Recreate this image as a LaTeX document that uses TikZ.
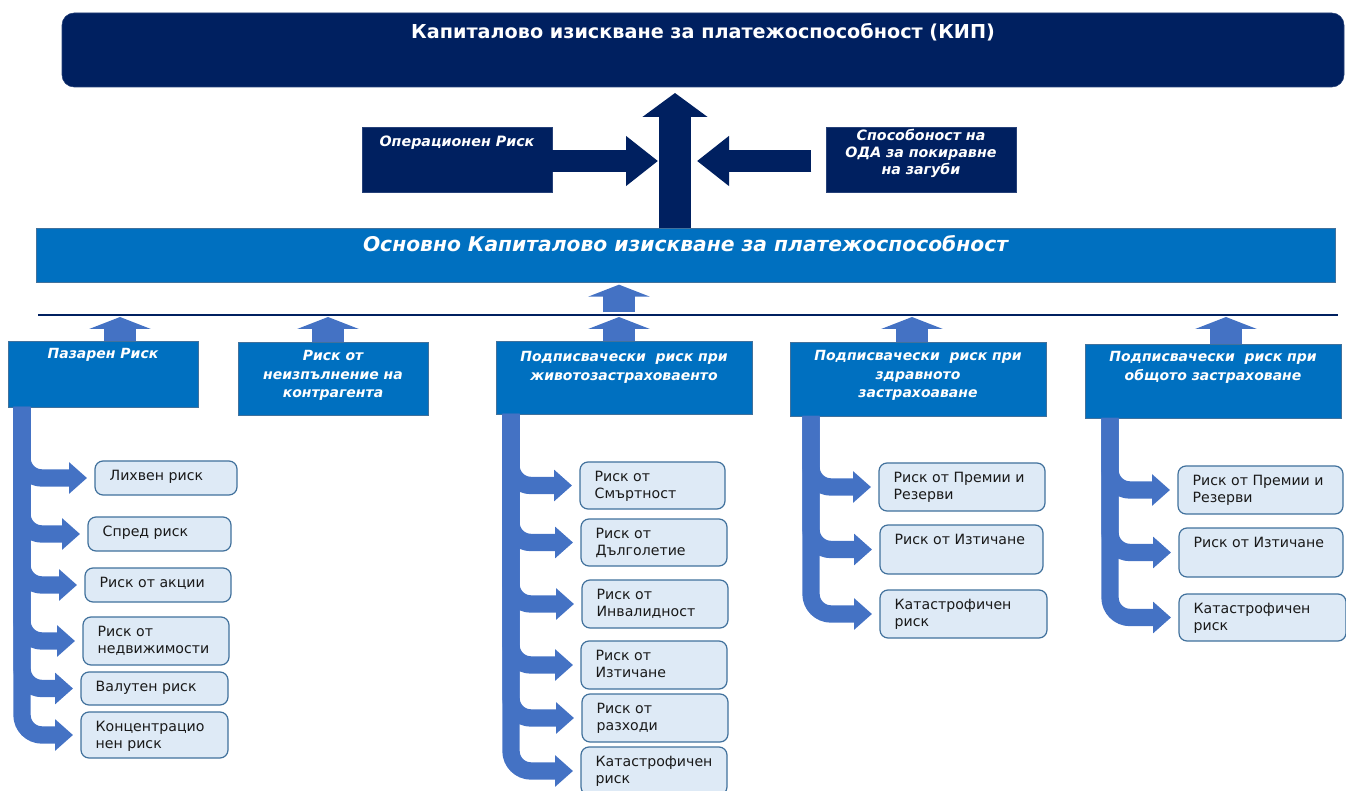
\documentclass[tikz,border=0pt]{standalone}
\usepackage{fontspec}
\setmainfont{DejaVu Sans}
\usetikzlibrary{arrows.meta,positioning,fit}
\definecolor{navy}{HTML}{002060}
\definecolor{midblue}{HTML}{0070C0}
\definecolor{arrowblue}{HTML}{4472C4}
\definecolor{subfill}{HTML}{DEEAF6}
\definecolor{subedge}{HTML}{41719C}
\tikzset{
  every node/.style={inner sep=0pt,outer sep=0pt},
  navybox/.style={fill=navy,draw=navy!85,inner sep=0pt},
  catbox/.style={fill=midblue,draw=subedge,line width=0.6pt,inner sep=0pt},
  subbox/.style={fill=subfill,draw=subedge,line width=0.9pt,rounded corners=6pt,inner sep=0pt},
  titletext/.style={text=white,font=\fontsize{14.4}{17}\selectfont\bfseries},
  bartext/.style={text=white,font=\fontsize{15.2}{18}\selectfont\bfseries\itshape},
  cattext/.style={text=white,align=center,font=\fontsize{10.5}{13.75}\selectfont\bfseries\itshape},
  boxtext/.style={text=white,align=center,font=\fontsize{10.7}{12.75}\selectfont\bfseries\itshape},
  subtext/.style={text=black!90,align=left,font=\fontsize{10.6}{12.5}\selectfont},
  bigup/.style={draw=navy,line width=24pt,-{Triangle[length=18pt,width=48pt]}},
  sidearrow/.style={draw=navy,line width=16.5pt,-{Triangle[length=24pt,width=36pt]}},
  blockup/.style={draw=arrowblue,line width=24pt,-{Triangle[length=9pt,width=46pt]}},
  subarrow/.style={draw=arrowblue,line width=13pt,rounded corners=15pt,-{Triangle[length=13.5pt,width=23pt]},shorten >=6pt},
  busline/.style={draw=navy,line width=2pt},
}
\begin{document}
\begin{tikzpicture}[x=0.75pt,y=-0.75pt]
\useasboundingbox (0,0) rectangle (1346,791);
% top level
\node[navybox,rounded corners=9pt,fit={(62,13) (1344,87)}] (kip) {};
\node[titletext,below=7.5pt of kip.north] (kiptitle) {Капиталово изискване за платежоспособност (КИП)};
\node[navybox,fit={(362,127) (552,192)}] (ops) {};
\node[boxtext,below=6.4pt of ops.north] (opstext) {Операционен Риск};
\node[navybox,fit={(826,127) (1016,192)},boxtext] (lac) {Способоност на\\ОДА за покиравне\\на загуби};
\node[catbox,fit={(36,228) (1335,282)}] (bscr) {};
\node[bartext,below=5.5pt of bscr.north] (bscrtext) {Основно Капиталово изискване за платежоспособност};
\coordinate (apex) at (675,93);
\draw[bigup] (bscr.north -| apex) -- (apex);
\coordinate (opstip) at (658,161);
\draw[sidearrow] (ops.east |- opstip) -- (opstip);
\coordinate (lactip) at (697,161);
\draw[sidearrow,shorten <=11pt] (lac.west |- lactip) -- (lactip);
% aggregation line
\coordinate (busl) at (38,315);
\coordinate (busr) at (1338,315);
\draw[busline] (busl) -- (busr);
\coordinate (busup) at (619,315);
\draw[blockup,shorten <=2pt,shorten >=2pt] (busup) -- (busup |- bscr.south);
% risk modules
\node[catbox,fit={(8,341) (198,407)}] (market) {};
\node[catbox,fit={(238,342) (428,415)}] (cpty) {};
\node[catbox,fit={(496,341) (752,414)}] (life) {};
\node[catbox,fit={(790,342) (1046,416)}] (health) {};
\node[catbox,fit={(1085,344) (1341,418)}] (general) {};
\node[cattext,below=5.7pt of market.north] (markettext) {Пазарен Риск};
\node[cattext,below=6.5pt of cpty.north] (cptytext) {Риск от\\неизпълнение на\\контрагента};
\node[cattext,below=8pt of life.north] (lifetext) {Подписвачески~ риск при\\животозастраховаенто};
\node[cattext,below=6.5pt of health.north] (healthtext) {Подписвачески~ риск при\\здравното\\застрахоаване};
\node[cattext,below=5.7pt of general.north] (generaltext) {Подписвачески~ риск при\\общото застраховане};
\foreach \cat/\cx in {market/120,cpty/328,life/619,health/912,general/1226}
  \draw[blockup,shorten >=1.5pt] (\cx,0 |- \cat.north) -- (\cx,0 |- busl);
% sub-modules
\foreach \nm/\xa/\ya/\xb/\yb/\txt in {
  m1/95/461/237/495/{Лихвен риск},
  m2/88/517/231/551/{Спред риск},
  m3/85/568/231/602/{Риск от акции},
  m4/83/617/229/665/{Риск от\\недвижимости},
  m5/81/672/228/705/{Валутен риск},
  m6/81/712/228/758/{Концентрацио\\нен риск},
  l1/580/462/725/509/{Риск от\\Смъртност},
  l2/581/519/727/566/{Риск от\\Дълголетие},
  l3/582/580/728/628/{Риск от\\Инвалидност},
  l4/581/641/727/689/{Риск от\\Изтичане},
  l5/582/694/728/742/{Риск от\\разходи},
  l6/581/747/727/795/{Катастрофичен\\риск},
  h1/879/463/1045/511/{Риск от Премии и\\Резерви},
  h2/880/525/1043/574/{Риск от Изтичане},
  h3/880/590/1047/638/{Катастрофичен\\риск},
  g1/1178/466/1343/514/{Риск от Премии и\\Резерви},
  g2/1179/528/1343/577/{Риск от Изтичане},
  g3/1179/594/1346/641/{Катастрофичен\\риск}}{
  \node[subbox,fit={(\xa,\ya) (\xb,\yb)}] (\nm) {};
  \node[subtext,below right=7pt and 11pt of \nm.north west] (\nm-t) {\txt};
}
\foreach \src/\sx/\dst in {market/22/m6,market/22/m5,market/22/m4,market/22/m3,market/22/m2,market/22/m1,
  life/511/l6,life/511/l5,life/511/l4,life/511/l3,life/511/l2,life/511/l1,
  health/811/h3,health/811/h2,health/811/h1,
  general/1110/g3,general/1110/g2,general/1110/g1}
  \draw[subarrow] (\sx,0 |- \src.south) |- (\dst);
\end{tikzpicture}
\end{document}
